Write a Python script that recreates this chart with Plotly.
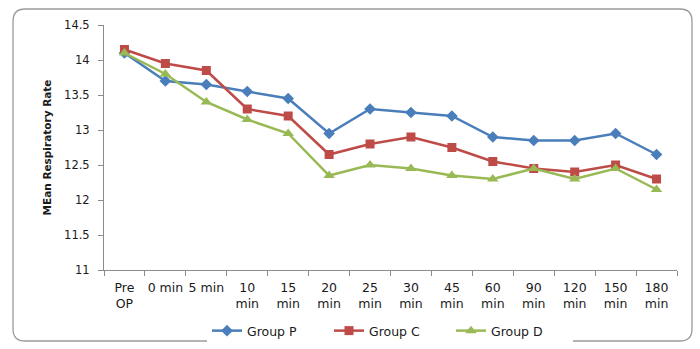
import plotly.graph_objects as go

# Time points after induction
time_points = ["Pre<br>OP", "0 min", "5 min", "10<br>min", "15<br>min", "20<br>min",
               "25<br>min", "30<br>min", "45<br>min", "60<br>min", "90<br>min",
               "120<br>min", "150<br>min", "180<br>min"]

# Mean respiratory rate per group
group_p = [14.1, 13.7, 13.65, 13.55, 13.45, 12.95, 13.3, 13.25, 13.2, 12.9, 12.85, 12.85, 12.95, 12.65]
group_c = [14.15, 13.95, 13.85, 13.3, 13.2, 12.65, 12.8, 12.9, 12.75, 12.55, 12.45, 12.4, 12.5, 12.3]
group_d = [14.1, 13.8, 13.4, 13.15, 12.95, 12.35, 12.5, 12.45, 12.35, 12.3, 12.45, 12.3, 12.45, 12.15]

y_ticks = [11, 11.5, 12, 12.5, 13, 13.5, 14, 14.5]

FONT = "DejaVu Sans"
TEXT = "#1a1a1a"
AXIS = "#8c8c8c"

W, H = 700, 349
L, R, T, B = 104, 23, 25, 79

fig = go.Figure()
series = [
    ("Group P", group_p, "#4A7EBB", "diamond", 9),
    ("Group C", group_c, "#BE4B48", "square", 9),
    ("Group D", group_d, "#98B954", "triangle-up", 10),
]
for name, vals, color, sym, size in series:
    fig.add_trace(go.Scatter(
        x=time_points, y=vals, name=name, mode="lines+markers",
        line=dict(color=color, width=2.5),
        marker=dict(symbol=sym, size=size, color=color),
    ))

# pixel -> paper helpers for the rounded outer frame
pw, ph = W - L - R, H - T - B
def px(x):
    return (x - L) / pw
def py(y):
    return (H - B - y) / ph

x0, x1, y0, y1, r = 13, 692, 9, 341, 12
path = (
    f"M {px(x0 + r)} {py(y0)} L {px(x1 - r)} {py(y0)} "
    f"Q {px(x1)} {py(y0)} {px(x1)} {py(y0 + r)} "
    f"L {px(x1)} {py(y1 - r)} Q {px(x1)} {py(y1)} {px(x1 - r)} {py(y1)} "
    f"L {px(x0 + r)} {py(y1)} Q {px(x0)} {py(y1)} {px(x0)} {py(y1 - r)} "
    f"L {px(x0)} {py(y0 + r)} Q {px(x0)} {py(y0)} {px(x0 + r)} {py(y0)} Z"
)
fig.add_shape(type="path", path=path, xref="paper", yref="paper",
              line=dict(color="#9a9a9a", width=1.3), layer="below")

fig.update_layout(
    width=W, height=H,
    margin=dict(l=L, r=R, t=T, b=B, autoexpand=False),
    paper_bgcolor="white", plot_bgcolor="white",
    font=dict(family=FONT, size=12, color=TEXT),
    showlegend=True,
    legend=dict(orientation="h", x=px(207), xanchor="left", y=py(331), yanchor="middle",
                font=dict(size=12.5), itemwidth=30, entrywidth=77, entrywidthmode="pixels"),
    xaxis=dict(
        type="category", showgrid=False, showline=True, linecolor=AXIS, linewidth=1,
        ticks="outside", tickson="boundaries", ticklen=5, tickcolor=AXIS,
        tickfont=dict(size=12.5), tickangle=0, automargin=False, ticklabelstandoff=6,
        range=[-0.5, len(time_points) - 0.5],
    ),
    yaxis=dict(
        range=[11, 14.5], tickvals=y_ticks, ticktext=[f"{v:g}" for v in y_ticks],
        showgrid=False, showline=True, linecolor=AXIS, linewidth=1,
        ticks="outside", ticklen=5, tickcolor=AXIS, tickfont=dict(size=11.5),
        zeroline=False, automargin=False, ticklabelstandoff=6,
        title=dict(text="<b>MEan Respiratory Rate</b>", font=dict(size=10.5), standoff=10),
    ),
)

fig.write_html("out.html")
